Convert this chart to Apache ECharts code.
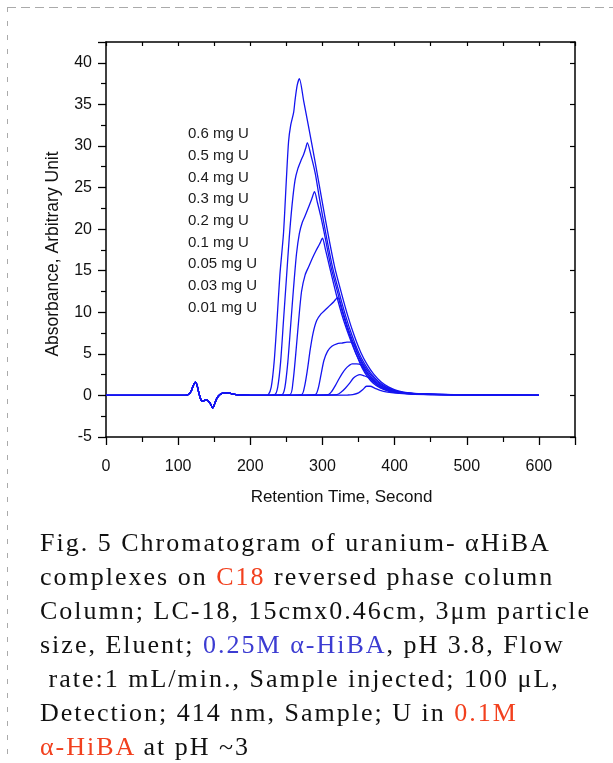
<!DOCTYPE html>
<html>
<head>
<meta charset="utf-8">
<script src="https://cdn.jsdelivr.net/npm/echarts@6/dist/echarts.min.js"></script>
<style>
  html, body { margin: 0; padding: 0; background: #fff; }
  .page { position: relative; width: 613px; height: 763px; overflow: hidden; }
  #chart { position: absolute; left: 0; top: 0; width: 613px; height: 763px; }
  .caption {
    position: absolute; left: 40px; top: 526px;
    font-family: "Liberation Serif", "DejaVu Serif", serif;
    font-size: 26px; line-height: 34px; letter-spacing: 2px;
    color: #111; white-space: pre;
  }
  .red { color: #f2401e; }
  .blue { color: #3c3cd2; }
</style>
</head>
<body>
<div class="page">
  <div id="chart"></div>
  <div class="caption">Fig. 5 Chromatogram of uranium- αHiBA
complexes on <span class="red">C18</span> reversed phase column
Column; LC-18, 15cmx0.46cm, 3μm particle
size, Eluent; <span class="blue">0.25M α-HiBA</span>, pH 3.8, Flow
 rate:1 mL/min., Sample injected; 100 μL,
Detection; 414 nm, Sample; U in <span class="red">0.1M</span>
<span class="red">α-HiBA</span> at pH ~3</div>
</div>
<script>
// 样品量标签（图中文字顺序）
const doseLabels = ['0.6 mg U', '0.5 mg U', '0.4 mg U', '0.3 mg U', '0.2 mg U',
  '0.1 mg U', '0.05 mg U', '0.03 mg U', '0.01 mg U']

// 所有曲线共用的前段：基线 + 注射峰
const injection = [
  [0, 0], [110, 0], [114, 0.1], [118, 0.5], [121, 1.2], [124, 1.6], [126, 1.3],
  [129, 0.2], [132, -0.6], [135, -0.7], [138, -0.5], [141, -0.6], [144, -0.9],
  [148, -1.5], [151, -0.9], [154, -0.3], [158, 0.1], [163, 0.3], [170, 0.3],
  [176, 0.15], [185, 0.05], [200, 0], [220, 0]
]

// 铀峰 [保留时间 s, 吸光度]
const u060 = [[225, 0.1], [229, 1], [233, 4], [237, 9], [241, 14.5], [246, 19.5], [250, 26],
  [253, 30.5], [256, 32.5], [260, 34], [262, 35.5], [265, 37.3], [268, 38.1], [274, 35.4],
  [281, 32.2], [290, 28], [299, 23.6], [308, 19.3], [317, 15.4], [326, 12.4], [335, 9.6],
  [344, 7.2], [353, 5.2], [362, 3.7], [371, 2.55], [381, 1.65], [392, 1.0], [405, 0.55],
  [420, 0.3], [450, 0.15], [500, 0.08], [560, 0.05], [600, 0.03]]
const u050 = [[234, 0.1], [238, 1], [242, 4], [246, 9], [250, 14], [254, 19], [258, 23],
  [262, 25.9], [266, 27.3], [270, 28.2], [274, 29], [277, 29.8], [279, 30.4], [284, 28.9],
  [290, 26.7], [296, 23.6], [305, 19.3], [314, 15.4], [323, 12.4], [332, 9.6], [341, 7.2],
  [350, 5.2], [359, 3.7], [368, 2.55], [378, 1.65], [389, 1.0], [402, 0.55], [417, 0.3],
  [447, 0.15], [497, 0.08], [555, 0.05], [590, 0.03]]
const u040 = [[244, 0.1], [248, 1], [252, 4], [256, 8.5], [260, 13], [264, 17], [268, 19.5],
  [272, 20.8], [276, 21.6], [281, 22.7], [285, 23.6], [289, 24.5], [293, 23.2], [298, 21.4],
  [303, 19.3], [312, 15.4], [321, 12.4], [330, 9.6], [339, 7.2], [348, 5.2], [357, 3.7],
  [366, 2.55], [376, 1.65], [387, 1.0], [400, 0.55], [415, 0.3], [445, 0.15], [495, 0.08],
  [550, 0.05], [600, 0.03]]
const u030 = [[255, 0.1], [259, 1.5], [263, 5], [267, 9], [271, 12.5], [276, 14.5], [281, 15.5],
  [286, 16.5], [291, 17.4], [296, 18.2], [300, 18.9], [304, 17.6], [310, 15.4], [319, 12.2],
  [328, 9.4], [337, 7.1], [346, 5.1], [355, 3.6], [364, 2.5], [374, 1.6], [385, 0.95],
  [398, 0.52], [413, 0.3], [443, 0.15], [493, 0.08], [545, 0.05], [568, 0.03]]
const u020 = [[271, 0.1], [275, 1], [279, 3], [283, 5.5], [287, 7.5], [292, 9], [298, 9.8],
  [304, 10.3], [310, 10.8], [316, 11.3], [321, 11.8], [327, 10.2], [334, 8.2], [341, 6.4],
  [348, 4.7], [355, 3.3], [362, 2.3], [370, 1.5], [380, 0.9], [392, 0.5], [405, 0.3],
  [430, 0.15], [480, 0.08], [540, 0.05], [568, 0.03]]
const u010 = [[290, 0.1], [294, 0.8], [298, 2.5], [302, 4.2], [307, 5.3], [313, 5.9], [320, 6.2],
  [327, 6.3], [334, 6.4], [340, 6.4], [344, 6.2], [348, 5.2], [354, 4.0], [361, 2.9],
  [368, 2.1], [376, 1.4], [386, 0.9], [398, 0.5], [412, 0.3], [440, 0.15], [490, 0.08],
  [540, 0.05], [600, 0.03]]
const u005 = [[308, 0.1], [313, 0.5], [318, 1.2], [323, 2.0], [327, 2.6], [332, 3.2], [337, 3.6],
  [341, 3.8], [347, 3.8], [351, 3.75], [354, 3.6], [358, 3.0], [364, 2.3], [371, 1.6],
  [379, 1.1], [389, 0.7], [400, 0.45], [415, 0.28], [445, 0.15], [490, 0.08], [540, 0.05],
  [600, 0.03]]
const u003 = [[320, 0.1], [326, 0.4], [332, 0.9], [338, 1.5], [343, 2.1], [348, 2.4], [352, 2.5],
  [358, 2.35], [364, 2.15], [369, 1.8], [375, 1.3], [383, 0.85], [393, 0.55], [405, 0.35],
  [425, 0.2], [460, 0.1], [510, 0.06], [568, 0.04]]
const u001 = [[335, 0.05], [342, 0.1], [350, 0.3], [356, 0.7], [361, 1.1], [366, 1.1], [373, 0.85],
  [380, 0.6], [390, 0.4], [402, 0.27], [420, 0.17], [460, 0.1], [510, 0.06], [600, 0.04]]

const peaks = [u060, u050, u040, u030, u020, u010, u005, u003, u001]

const xTicks = [0, 100, 200, 300, 400, 500, 600]
const yTicks = [-5, 0, 5, 10, 15, 20, 25, 30, 35, 40]

const chartEl = document.getElementById('chart')
const myChart = echarts.init(chartEl)

const lineColor = '#1414f0'
const font = 'Liberation Sans, Arial, sans-serif'
const axisLine = { show: true, onZero: false, lineStyle: { color: '#000', width: 1.5 } }

const seriesItems = peaks.map((pk, i) => {
  return {
    type: 'line',
    name: doseLabels[i],
    data: injection.concat(pk),
    showSymbol: false,
    smooth: 0.25,
    lineStyle: { color: lineColor, width: 1.3 },
    itemStyle: { color: lineColor },
    silent: true,
    z: 3
  }
})

const options = {
  animation: false,
  grid: { left: 106, right: 38, top: 42, bottom: 326 },
  legend: {
    data: doseLabels,
    orient: 'vertical',
    left: 178,
    top: 121.5,
    icon: 'none',
    itemWidth: 0,
    itemHeight: 15,
    itemGap: 6.7,
    selectedMode: false,
    textStyle: { fontFamily: font, fontSize: 15, color: '#1a1a1a' }
  },
  xAxis: [
    {
      type: 'value', min: 0, max: 650, interval: 100, position: 'bottom',
      axisLine: axisLine,
      axisTick: { show: true, length: 8, lineStyle: { color: '#000', width: 1.3 } },
      minorTick: { show: true, splitNumber: 2, length: 5, lineStyle: { color: '#000', width: 1.2 } },
      splitLine: { show: false },
      axisLabel: {
        fontFamily: font, fontSize: 16, color: '#111', margin: 22,
        showMaxLabel: false,
        formatter: v => (xTicks.indexOf(v) >= 0 ? String(v) : '')
      }
    },
    {
      type: 'value', min: 0, max: 650, interval: 50, position: 'top',
      axisLine: axisLine,
      axisTick: { show: true, inside: true, length: 4, lineStyle: { color: '#000', width: 1.2 } },
      axisLabel: { show: false },
      splitLine: { show: false }
    }
  ],
  yAxis: [
    {
      type: 'value', min: -5, max: 42.5, interval: 5, position: 'left',
      axisLine: axisLine,
      axisTick: { show: true, length: 8, lineStyle: { color: '#000', width: 1.3 } },
      minorTick: { show: true, splitNumber: 2, length: 5, lineStyle: { color: '#000', width: 1.2 } },
      splitLine: { show: false },
      axisLabel: {
        fontFamily: font, fontSize: 16, color: '#111', margin: 14,
        showMaxLabel: false,
        formatter: v => (yTicks.indexOf(v) >= 0 ? String(v) : '')
      }
    },
    {
      type: 'value', min: -5, max: 42.5, interval: 5, position: 'right',
      axisLine: axisLine,
      axisTick: { show: true, inside: true, length: 5, lineStyle: { color: '#000', width: 1.2 } },
      axisLabel: { show: false },
      splitLine: { show: false }
    }
  ],
  graphic: [
    // 外框虚线
    { type: 'line', shape: { x1: 7, y1: 7.5, x2: 613, y2: 7.5 }, style: { stroke: '#aaa', lineWidth: 1, lineDash: [9, 5] } },
    { type: 'line', shape: { x1: 7.5, y1: 7, x2: 7.5, y2: 763 }, style: { stroke: '#aaa', lineWidth: 1, lineDash: [5, 9] } },
    {
      type: 'text', x: 53, y: 254, rotation: Math.PI / 2,
      style: { text: 'Absorbance, Arbitrary Unit', fontFamily: font, fontSize: 17.5, fill: '#111', align: 'center', verticalAlign: 'middle' }
    },
    {
      type: 'text', x: 341.5, y: 497,
      style: { text: 'Retention Time, Second', fontFamily: font, fontSize: 17, fill: '#111', align: 'center', verticalAlign: 'middle' }
    }
  ],
  series: seriesItems
}
myChart.setOption(options)
</script>
</body>
</html>
